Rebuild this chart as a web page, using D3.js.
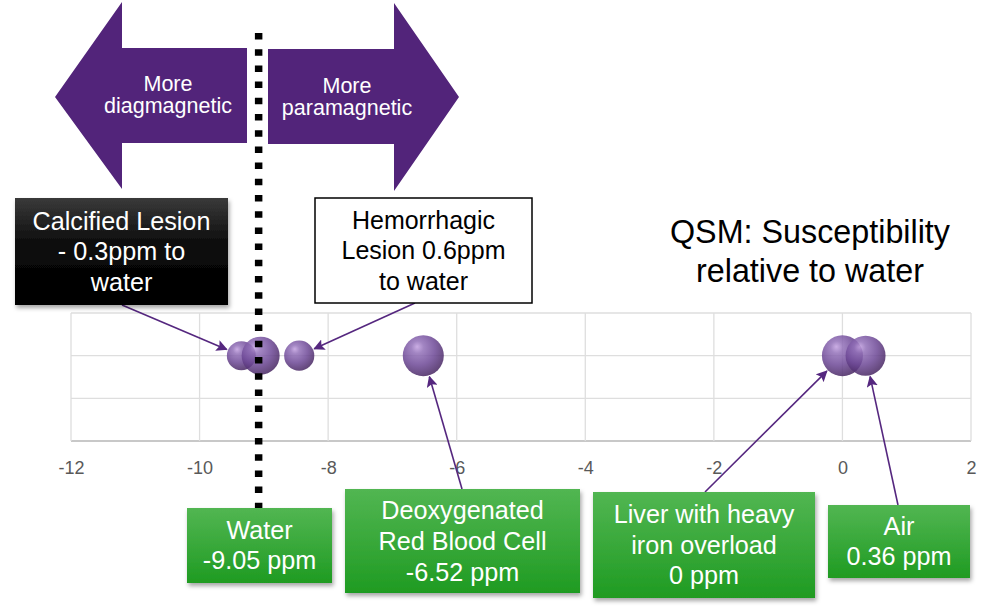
<!DOCTYPE html>
<html><head><meta charset="utf-8">
<script src="https://cdn.jsdelivr.net/npm/d3@7"></script>
<style>
html,body{margin:0;padding:0;background:#fff;}
svg{display:block;font-family:"Liberation Sans",Arial,sans-serif;}
</style></head>
<body>
<svg id="chart" width="990" height="616"></svg>
<script>
// ---- data ----
const materials = ["Calcified Lesion", "Water", "Hemorrhagic Lesion", "Deoxygenated Red Blood Cell", "Liver with heavy iron overload", "Air"];
const susceptibility = [-9.35, -9.05, -8.45, -6.52, 0, 0.36];
const rowValue = [2, 2, 2, 2, 2, 2];
const bubbleSize = [0.5, 0.86, 0.54, 1, 1, 0.95];
const xTicks = [-12, -10, -8, -6, -4, -2, 0, 2];
const yTicks = [0, 1, 2, 3];
const titleLines = ["QSM: Susceptibility", "relative to water"];
const leftArrowText = ["More", "diagmagnetic"];
const rightArrowText = ["More", "paramagnetic"];

// annotation boxes (text + layout)
const boxes = [
  {idx:0, lines:["Calcified Lesion","- 0.3ppm to","water"], x:15, y:198, w:213, h:107, style:"black", anchor:[122,305], fs:25.2, lh:30.5},
  {idx:2, lines:["Hemorrhagic","Lesion 0.6ppm","to water"], x:315, y:198, w:217, h:105, style:"white", anchor:[415,303], fs:25, lh:30.5},
  {idx:1, lines:["Water","-9.05 ppm"], x:187, y:508, w:145, h:75, style:"green", anchor:null, fs:25.2, lh:30},
  {idx:3, lines:["Deoxygenated","Red Blood Cell","-6.52 ppm"], x:345, y:489, w:235, h:104, style:"green", anchor:[462,489], fs:25.2, lh:31},
  {idx:4, lines:["Liver with heavy","iron overload","0 ppm"], x:593, y:492, w:222, h:106, style:"green", anchor:[705,492], fs:25.2, lh:30.5},
  {idx:5, lines:["Air","0.36 ppm"], x:828, y:505, w:142, h:73, style:"green", anchor:[898,505], fs:25.2, lh:30}
];

const svg = d3.select("#chart");
const defs = svg.append("defs");

const x = d3.scaleLinear().domain([-12, 2]).range([71, 971]);
const y = d3.scaleLinear().domain([0, 3]).range([441, 313]);
const r = d3.scaleSqrt().domain([0, 1]).range([0, 20.5]);

// gradients
const bg = defs.append("radialGradient").attr("id","bub").attr("cx","40%").attr("cy","35%").attr("r","68%").attr("fx","35%").attr("fy","28%");
[["0%","#c19fdf"],["22%","#9270b8"],["60%","#6d4896"],["100%","#45245f"]].forEach(s=>bg.append("stop").attr("offset",s[0]).attr("stop-color",s[1]));
const gg = defs.append("linearGradient").attr("id","green").attr("x1",0).attr("y1",0).attr("x2",0).attr("y2",1);
gg.append("stop").attr("offset","0%").attr("stop-color","#52b652");
gg.append("stop").attr("offset","100%").attr("stop-color","#1f9b22");
const kg = defs.append("linearGradient").attr("id","blk").attr("x1",0).attr("y1",0).attr("x2",0).attr("y2",1);
kg.append("stop").attr("offset","0%").attr("stop-color","#3a3a3a");
kg.append("stop").attr("offset","45%").attr("stop-color","#0a0a0a");
kg.append("stop").attr("offset","100%").attr("stop-color","#000");
const sh = defs.append("filter").attr("id","shadow").attr("x","-10%").attr("y","-10%").attr("width","130%").attr("height","140%");
sh.append("feDropShadow").attr("dx",1.5).attr("dy",3).attr("stdDeviation",2).attr("flood-color","#000").attr("flood-opacity",0.35);
defs.append("marker").attr("id","ah").attr("viewBox","0 0 10 10").attr("refX",9).attr("refY",5)
  .attr("markerWidth",7).attr("markerHeight",7).attr("markerUnits","strokeWidth").attr("orient","auto")
  .append("path").attr("d","M0,0 L10,5 L0,10 L2,5 Z").attr("fill","#55277f");

// grid
const grid = svg.append("g");
grid.selectAll("line.h").data(yTicks).join("line")
  .attr("x1", x(-12)).attr("x2", x(2)).attr("y1", d=>y(d)).attr("y2", d=>y(d))
  .attr("stroke", d=> d===0 ? "#c8c8c8" : "#dedede").attr("stroke-width", d=> d===0?2:1.3);
grid.selectAll("line.v").data(xTicks).join("line")
  .attr("x1", d=>x(d)).attr("x2", d=>x(d)).attr("y1", y(0)).attr("y2", y(3))
  .attr("stroke","#dedede").attr("stroke-width",1.3);

// x axis labels
const xa = svg.append("g").attr("transform",`translate(0,${y(0)})`)
  .call(d3.axisBottom(x).tickValues(xTicks).tickSize(0).tickPadding(20).tickFormat(d=>String(d)));
xa.select(".domain").remove();
xa.selectAll("text").attr("font-size",18).attr("fill","#595959").attr("font-family","Liberation Sans, Arial, sans-serif");

// bubbles
const data = materials.map((m,i)=>({m, v:susceptibility[i], yv:rowValue[i], s:bubbleSize[i]}));
svg.append("g").selectAll("circle").data(data).join("circle")
  .attr("cx", d=>x(d.v)).attr("cy", d=>y(d.yv)).attr("r", d=>r(d.s))
  .attr("fill","url(#bub)").attr("fill-opacity",0.85);

// connectors
const cg = svg.append("g");
boxes.filter(b=>b.anchor).forEach(b=>{
  const d = data[b.idx];
  const cx = x(d.v), cy = y(d.yv), rr = r(d.s) + 1.5;
  const dx = b.anchor[0]-cx, dy = b.anchor[1]-cy, L = Math.hypot(dx,dy);
  cg.append("line").attr("x1", b.anchor[0]).attr("y1", b.anchor[1])
    .attr("x2", cx + dx/L*rr).attr("y2", cy + dy/L*rr)
    .attr("stroke","#55277f").attr("stroke-width",1.6).attr("marker-end","url(#ah)");
});

// big arrows
const ag = svg.append("g");
ag.append("path").attr("d","M55,97 L122,2 L122,48 L247,48 L247,143 L122,143 L122,189 Z").attr("fill","#52247a");
ag.append("path").attr("d","M459,97 L394,3 L394,49 L268,49 L268,144 L394,144 L394,191 Z").attr("fill","#52247a");
ag.append("text").attr("x",168).attr("y",91).attr("text-anchor","middle").attr("fill","#fff").attr("font-size",21.5)
  .selectAll("tspan").data(leftArrowText).join("tspan").attr("x",168).attr("dy",(d,i)=>i?22:0).text(d=>d);
ag.append("text").attr("x",347).attr("y",93).attr("text-anchor","middle").attr("fill","#fff").attr("font-size",21.5)
  .selectAll("tspan").data(rightArrowText).join("tspan").attr("x",347).attr("dy",(d,i)=>i?22:0).text(d=>d);

// dotted water line
svg.append("line").attr("x1", x(susceptibility[1])-2).attr("x2", x(susceptibility[1])-2)
  .attr("y1", 33).attr("y2", 508).attr("stroke","#000").attr("stroke-width",7.5).attr("stroke-dasharray","6.5 9.7");

// boxes
const bgp = svg.append("g");
boxes.forEach(b=>{
  const g = bgp.append("g");
  const rect = g.append("rect").attr("x",b.x).attr("y",b.y).attr("width",b.w).attr("height",b.h);
  let tc = "#fff";
  if (b.style==="green") rect.attr("fill","url(#green)").attr("filter","url(#shadow)");
  else if (b.style==="black") rect.attr("fill","url(#blk)").attr("filter","url(#shadow)");
  else { rect.attr("fill","#fff").attr("stroke","#000").attr("stroke-width",1.5); tc="#000"; }
  const n = b.lines.length;
  const cy = b.y + b.h/2;
  const y0 = cy - (n-1)*b.lh/2;
  g.append("text").attr("text-anchor","middle").attr("fill",tc).attr("font-size",b.fs)
    .selectAll("tspan").data(b.lines).join("tspan")
    .attr("x", b.x + b.w/2).attr("y",(d,i)=>y0 + i*b.lh).attr("dy","0.35em").text(d=>d);
});

// title
svg.append("text").attr("text-anchor","middle").attr("font-size",32.3).attr("fill","#000")
  .selectAll("tspan").data(titleLines).join("tspan")
  .attr("x",810).attr("y",(d,i)=>232 + i*39).attr("dy","0.35em").text(d=>d);
</script>
</body></html>
